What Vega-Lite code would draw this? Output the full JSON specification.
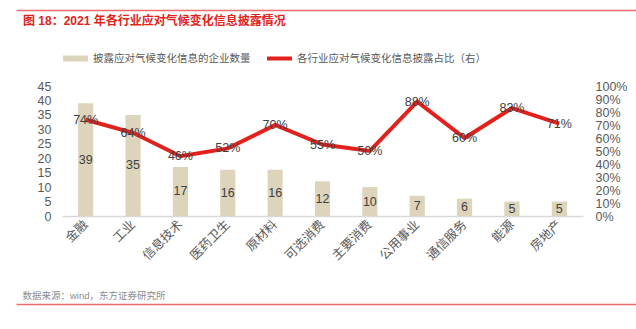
{
  "$schema": "https://vega.github.io/schema/vega-lite/v6.json",
  "width": 620,
  "height": 294,
  "autosize": {"type": "none"},
  "padding": {"left": 16, "top": 10, "right": 0, "bottom": 25},
  "background": "white",
  "config": {
    "view": {"stroke": null},
    "font": "Liberation Sans, Noto Sans CJK SC",
    "axis": {"grid": false, "ticks": false, "tickSize": 0, "domain": false, "labelFontSize": 12.5, "labelColor": "#595959", "labelOverlap": false, "labelFont": "Liberation Sans, Noto Sans CJK SC"}
  },
  "title": {
    "text": "图 18：2021 年各行业应对气候变化信息披露情况",
    "anchor": "start",
    "frame": "group",
    "orient": "top",
    "fontSize": 12,
    "fontWeight": "bold",
    "color": "#E2231A",
    "font": "Liberation Sans, Noto Sans CJK SC",
    "baseline": "top",
    "offset": 0,
    "dx": 7,
    "dy": 18
  },
  "data": {
    "values": [
      {"cat": "金融", "n": 39, "p": 0.74},
      {"cat": "工业", "n": 35, "p": 0.64},
      {"cat": "信息技术", "n": 17, "p": 0.46},
      {"cat": "医药卫生", "n": 16, "p": 0.52},
      {"cat": "原材料", "n": 16, "p": 0.70},
      {"cat": "可选消费", "n": 12, "p": 0.55},
      {"cat": "主要消费", "n": 10, "p": 0.50},
      {"cat": "公用事业", "n": 7, "p": 0.88},
      {"cat": "通信服务", "n": 6, "p": 0.60},
      {"cat": "能源", "n": 5, "p": 0.83},
      {"cat": "房地产", "n": 5, "p": 0.71}
    ]
  },
  "layer": [
    {
      "mark": {"type": "bar"},
      "encoding": {
        "x": {"field": "cat", "type": "nominal", "sort": null,
          "scale": {"range": [46, 567], "paddingInner": 0.68, "paddingOuter": 0.34},
          "axis": {"orient": "bottom", "offset": -88, "title": null, "domain": true, "domainColor": "#d9d9d9", "domainWidth": 1.5, "labelAngle": -45, "labelPadding": 6, "labelAlign": "right", "labelBaseline": "middle"}},
        "y": {"field": "n", "type": "quantitative",
          "scale": {"domain": [0, 45], "range": [206, 76], "nice": false, "zero": true},
          "axis": {"orient": "left", "offset": -46, "title": null, "values": [0, 5, 10, 15, 20, 25, 30, 35, 40, 45], "labelPadding": 11}},
        "color": {"datum": "披露应对气候变化信息的企业数量", "type": "nominal",
          "scale": {"domain": ["披露应对气候变化信息的企业数量", "各行业应对气候变化信息披露占比（右）"], "range": ["#DDD4BC", "#E2201C"]},
          "legend": {"orient": "none", "legendX": 47, "legendY": 36, "direction": "horizontal", "title": null,
            "labelFontSize": 10.5, "labelColor": "#595959", "labelLimit": 400, "symbolSize": 625, "labelOffset": 5, "columnPadding": 16,
            "encode": {"symbols": {"update": {
              "shape": [{"test": "datum.index === 0", "value": "M-1,-0.24H1V0.24H-1Z"}, {"value": "M-1,-0.16H1V0.16H-1Z"}],
              "fill": {"scale": "color", "field": "value"},
              "strokeWidth": {"value": 0},
              "opacity": {"value": 1}
            }}}}}
      }
    },
    {
      "mark": {"type": "text", "fontSize": 12.5, "color": "#404040"},
      "encoding": {
        "x": {"field": "cat", "type": "nominal", "sort": null,
          "scale": {"range": [46, 567], "paddingInner": 0.68, "paddingOuter": 0.34}, "axis": null},
        "y": {"field": "n", "type": "quantitative",
          "scale": {"domain": [0, 90], "range": [206, 76], "nice": false}, "axis": null},
        "text": {"field": "n", "type": "quantitative"}
      }
    },
    {
      "mark": {"type": "line", "strokeWidth": 4},
      "encoding": {
        "x": {"field": "cat", "type": "nominal", "sort": null,
          "scale": {"range": [46, 567], "paddingInner": 0.68, "paddingOuter": 0.34}, "axis": null},
        "y": {"field": "p", "type": "quantitative",
          "scale": {"domain": [0, 1], "range": [206, 76], "nice": false},
          "axis": {"orient": "right", "offset": -53, "title": null, "format": ".0%", "values": [0, 0.1, 0.2, 0.3, 0.4, 0.5, 0.6, 0.7, 0.8, 0.9, 1], "labelPadding": 12}},
        "color": {"datum": "各行业应对气候变化信息披露占比（右）", "type": "nominal"}
      }
    },
    {
      "mark": {"type": "text", "fontSize": 12.5, "color": "#404040"},
      "encoding": {
        "x": {"field": "cat", "type": "nominal", "sort": null,
          "scale": {"range": [46, 567], "paddingInner": 0.68, "paddingOuter": 0.34}, "axis": null},
        "y": {"field": "p", "type": "quantitative",
          "scale": {"domain": [0, 1], "range": [206, 76], "nice": false}, "axis": null},
        "text": {"field": "p", "type": "quantitative", "format": ".0%"}
      }
    },
    {
      "mark": {"type": "text", "text": ""},
      "encoding": {
        "x": {"field": "cat", "type": "nominal", "sort": null,
          "axis": {"orient": "top", "title": null, "labels": false, "domain": true, "domainColor": "#EF6A6A", "domainWidth": 1.5}}
      }
    },
    {
      "mark": {"type": "text", "text": ""},
      "encoding": {
        "x": {"field": "cat", "type": "nominal", "sort": null,
          "axis": {"orient": "bottom", "labels": false, "domain": true, "domainColor": "#EF6A6A", "domainWidth": 1.5,
            "title": "数据来源：wind，东方证券研究所", "titleFontSize": 9.5, "titleColor": "#8c8c8c", "titleFontWeight": "normal",
            "titleAnchor": "start", "titleAlign": "left", "titleX": 6, "titleY": -9, "titleBaseline": "middle"}}
      }
    }
  ],
  "resolve": {"scale": {"x": "independent", "y": "independent"}}
}
